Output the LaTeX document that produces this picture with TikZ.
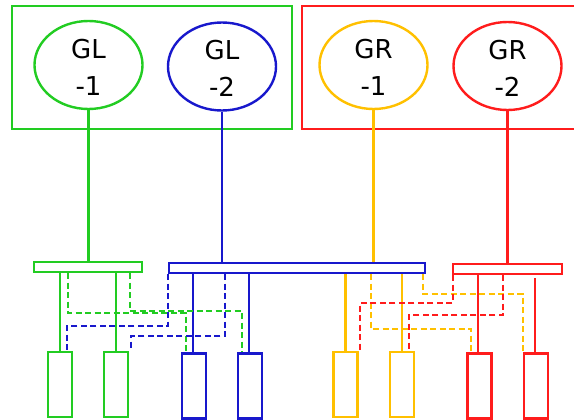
\documentclass[tikz,border=0pt]{standalone}
\usepackage{fontspec}
\setmainfont{DejaVu Sans}
\usetikzlibrary{shapes.geometric}
\definecolor{cg}{RGB}{34,204,34}
\definecolor{cb}{RGB}{24,24,204}
\definecolor{cy}{RGB}{255,192,0}
\definecolor{cr}{RGB}{255,28,28}
\tikzset{
  lw/.style={line width=2.4pt},
  frame/.style={draw=#1, rectangle, inner sep=0pt, lw},
  gen/.style={draw=#1, ellipse, minimum width=108pt, minimum height=88pt, inner sep=0pt, lw},
  gtext/.style={align=center, inner sep=0pt, font=\fontsize{26}{37}\selectfont},
  bus/.style={draw=#1, rectangle, minimum height=10pt, inner sep=0pt, lw},
  load/.style={draw=#1, rectangle, minimum width=24pt, minimum height=65pt, inner sep=0pt, lw},
  feed/.style={draw=#1, lw},
  backup/.style={draw=#1, lw, dash pattern=on 6pt off 3.5pt},
}
\begin{document}
\begin{tikzpicture}[x=1pt, y=-1pt]
\useasboundingbox (0,0) rectangle (574,420);

% group frames
\node[frame=cg, minimum width=280pt, minimum height=123pt] (gleft) at (152,67.5) {};
\node[frame=cr, minimum width=290pt, minimum height=123pt] (gright) at (447,67.5) {};

% generators
\node[gen=cg] (gl1) at (88.5,65) {};
\node[gen=cb] (gl2) at (222,66.5) {};
\node[gen=cy] (gr1) at (373.5,65) {};
\node[gen=cr] (gr2) at (507.5,66) {};
\node[gtext] (tgl1) at (88.5,67.5) {GL\\-1};
\node[gtext] (tgl2) at (222,68) {GL\\-2};
\node[gtext] (tgr1) at (373.5,67.5) {GR\\-1};
\node[gtext] (tgr2) at (507.5,68) {GR\\-2};

% buses
\node[bus=cg, minimum width=108pt] (gbus) at (88,267) {};
\node[bus=cb, minimum width=256pt] (bbus) at (297,268) {};
\node[bus=cr, minimum width=109pt] (rbus) at (507.5,269) {};

% loads
\node[load=cg] (g1) at (60,384.5) {};
\node[load=cg] (g2) at (116,384.5) {};
\node[load=cb] (b1) at (194,386) {};
\node[load=cb] (b2) at (250,386) {};
\node[load=cy] (y1) at (345.5,384.5) {};
\node[load=cy] (y2) at (402,384.5) {};
\node[load=cr] (r1) at (479.5,386) {};
\node[load=cr] (r2) at (536,386) {};

% generator feeders
\draw[feed=cg] (gl1.south) -- (gl1.south |- gbus.north);
\draw[feed=cb] (gl2.south) -- (gl2.south |- bbus.north);
\draw[feed=cy] (gr1.south) -- (gr1.south |- bbus.north);
\draw[feed=cr] (gr2.south) -- (gr2.south |- rbus.north);

% main load feeders
\draw[feed=cg] (g1.north) -- (g1.north |- gbus.south);
\draw[feed=cg] (g2.north) -- (g2.north |- gbus.south);
\draw[feed=cb] ([xshift=-1pt]b1.north) -- ([xshift=-1pt]b1.north |- bbus.south);
\draw[feed=cb] ([xshift=-1pt]b2.north) -- ([xshift=-1pt]b2.north |- bbus.south);
\draw[feed=cy] (y1.north) -- (y1.north |- bbus.south);
\draw[feed=cy] (y2.north) -- (y2.north |- bbus.south);
\draw[feed=cr] ([xshift=-1.5pt]r1.north) -- ([xshift=-1.5pt]r1.north |- rbus.south);
\coordinate (r2top) at (535,278);
\draw[feed=cr] (r2.north -| r2top) -- (r2top);

% backup feeders: bend points
\coordinate (ga1) at (68,313);  \coordinate (ga2) at (186,313);
\coordinate (gb1) at (130,311); \coordinate (gb2) at (242,311);
\coordinate (ba1) at (168,326); \coordinate (ba2) at (67,326);
\coordinate (bb1) at (225,336); \coordinate (bb2) at (131,336);
\coordinate (ya1) at (371,329); \coordinate (ya2) at (471,329);
\coordinate (yb1) at (423,294); \coordinate (yb2) at (523,294);
\coordinate (ra1) at (453,303); \coordinate (ra2) at (360,303);
\coordinate (rb1) at (503,315); \coordinate (rb2) at (409,315);

\draw[backup=cg] (gbus.south -| ga1) -- (ga1) -- (ga2) -- (ga2 |- b1.north);
\draw[backup=cg] (gbus.south -| gb1) -- (gb1) -- (gb2) -- (gb2 |- b2.north);
\draw[backup=cb] (bbus.south -| ba1) -- (ba1) -- (ba2) -- (ba2 |- g1.north);
\draw[backup=cb] (bbus.south -| bb1) -- (bb1) -- (bb2) -- (bb2 |- g2.north);
\draw[backup=cy] (bbus.south -| ya1) -- (ya1) -- (ya2) -- (ya2 |- r1.north);
\draw[backup=cy] (bbus.south -| yb1) -- (yb1) -- (yb2) -- (yb2 |- r2.north);
\draw[backup=cr] (rbus.south -| ra1) -- (ra1) -- (ra2) -- (ra2 |- y1.north);
\draw[backup=cr] (rbus.south -| rb1) -- (rb1) -- (rb2) -- (rb2 |- y2.north);
\end{tikzpicture}
\end{document}
